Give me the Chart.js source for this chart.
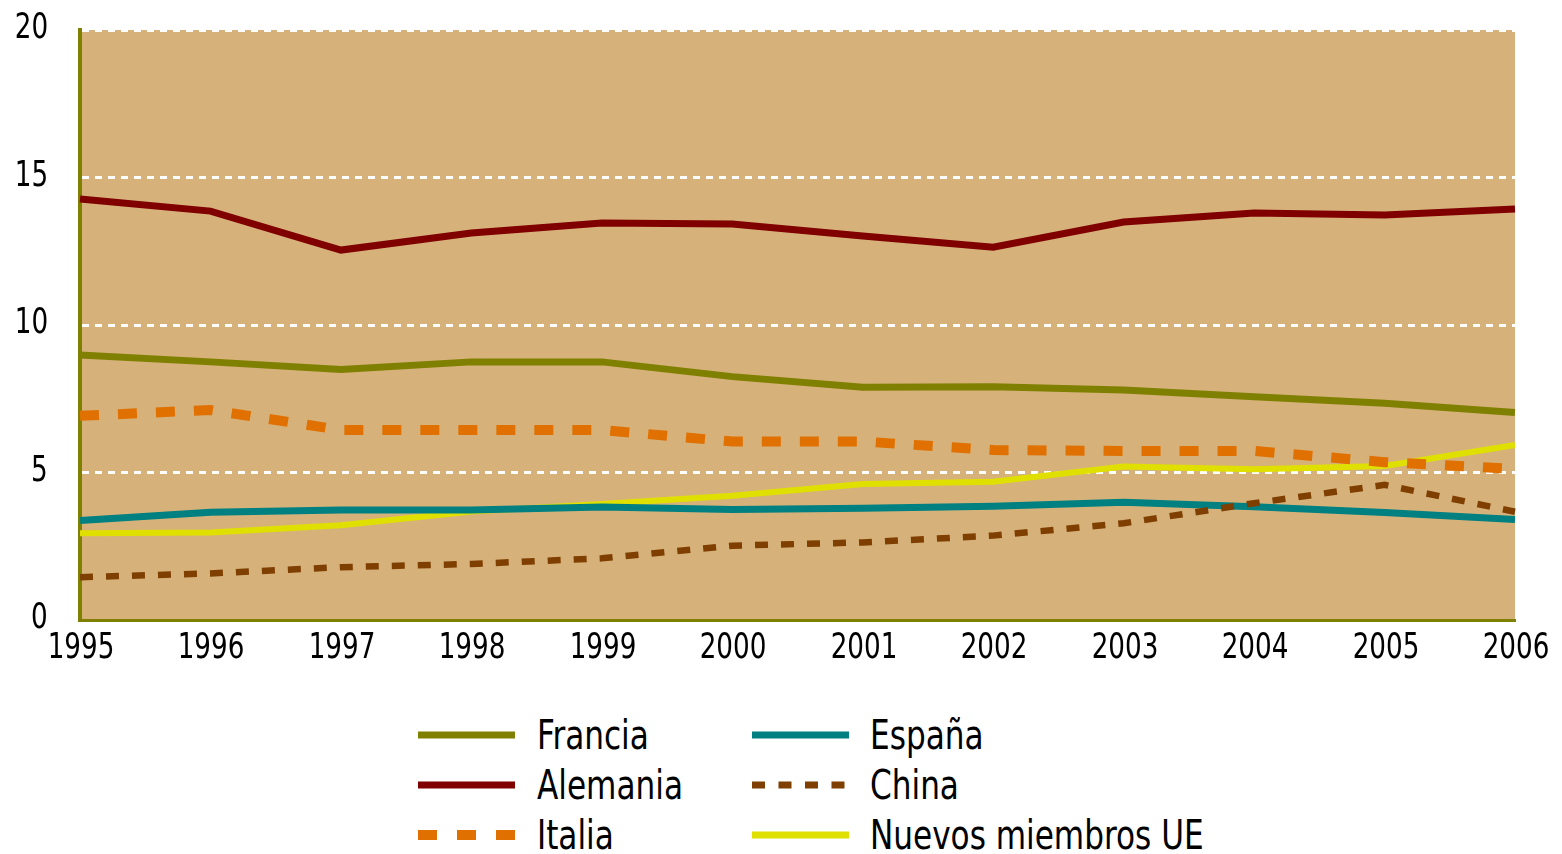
<!DOCTYPE html>
<html>
<head>
<meta charset="utf-8">
<script src="https://cdn.jsdelivr.net/npm/chart.js@4/dist/chart.umd.min.js"></script>
<style>
  html, body { margin: 0; padding: 0; background: #fff; }
  body { width: 1562px; height: 854px; position: relative; overflow: hidden;
         font-family: "Liberation Sans Narrow", "Arial Narrow", "DejaVu Sans Condensed", sans-serif; }
  #wrap { position: absolute; left: 0; top: 0; width: 1562px; height: 700px; }
  .leg { position: absolute; height: 44px; }
  .leg svg { display: block; }
  .leg span { position: absolute; font-size: 40px; color: #000; white-space: nowrap; line-height: 44px;
              transform-origin: left center; transform: scaleX(0.865); }
  .tx { position: absolute; font-size: 36px; line-height: 36px; color: #000; white-space: nowrap;
        transform: translateX(-50%) scaleX(0.81); }
  .ty { position: absolute; font-size: 36px; line-height: 36px; color: #000; white-space: nowrap;
        transform-origin: right center; transform: scaleX(0.81); }
</style>
</head>
<body>
<div id="wrap"><canvas id="c" width="1562" height="700"></canvas></div>
<div id="ticks"></div>
<div id="legend"></div>
<script>
const years = ['1995','1996','1997','1998','1999','2000','2001','2002','2003','2004','2005','2006'];
const yTicks = [0, 5, 10, 15, 20];

const francia  = [8.98, 8.75, 8.49, 8.75, 8.75, 8.25, 7.89, 7.91, 7.80, 7.57, 7.35, 7.03];
const alemania = [14.27, 13.86, 12.54, 13.12, 13.46, 13.42, 13.02, 12.64, 13.49, 13.80, 13.73, 13.93];
const italia   = [6.92, 7.12, 6.44, 6.44, 6.44, 6.05, 6.05, 5.76, 5.73, 5.73, 5.35, 5.12];
const espana   = [3.37, 3.65, 3.73, 3.73, 3.83, 3.75, 3.79, 3.86, 3.99, 3.84, 3.64, 3.41];
const china    = [1.45, 1.58, 1.79, 1.90, 2.09, 2.52, 2.63, 2.86, 3.28, 3.96, 4.58, 3.67];
const nuevos   = [2.94, 2.97, 3.21, 3.68, 3.93, 4.21, 4.61, 4.69, 5.20, 5.11, 5.22, 5.93];

const seriesNames = ['Francia', 'Alemania', 'Italia', 'España', 'China', 'Nuevos miembros UE'];

const styles = [
  { color: '#808000', width: 7, dash: [] },
  { color: '#800000', width: 7, dash: [] },
  { color: '#E07000', width: 10, dash: [19, 19] },
  { color: '#008080', width: 7, dash: [] },
  { color: '#7F3F00', width: 6.5, dash: [13, 13] },
  { color: '#E0E000', width: 6, dash: [] }
];
const dataArr = [francia, alemania, italia, espana, china, nuevos];
const drawOrder = [1, 1, 2, 3, 2, 4];

const bgPlugin = {
  id: 'plotBg',
  beforeDraw(chart) {
    const { ctx, chartArea: a } = chart;
    ctx.save();
    ctx.fillStyle = 'rgb(214,178,122)';
    ctx.fillRect(a.left, a.top, a.right - a.left, a.bottom - a.top);
    ctx.restore();
  }
};

const chart = new Chart(document.getElementById('c'), {
  type: 'line',
  data: {
    labels: years,
    datasets: seriesNames.map((n, i) => ({
      label: n,
      data: dataArr[i],
      borderColor: styles[i].color,
      backgroundColor: styles[i].color,
      borderWidth: styles[i].width,
      borderDash: styles[i].dash,
      borderCapStyle: 'butt',
      borderJoinStyle: 'miter',
      pointRadius: 0,
      tension: 0,
      fill: false,
      order: drawOrder[i]
    }))
  },
  options: {
    responsive: false,
    animation: false,
    events: [],
    layout: { padding: { top: 30, right: 47, left: 0, bottom: 0 } },
    plugins: { legend: { display: false }, tooltip: { enabled: false } },
    scales: {
      x: {
        type: 'category',
        offset: false,
        grid: { display: false },
        border: { display: true, color: '#808000', width: 3 },
        ticks: { display: false, autoSkip: false },
        afterFit(s) { s.height = 80; }
      },
      y: {
        min: 0, max: 20,
        afterBuildTicks(s) { s.ticks = yTicks.map(v => ({ value: v })); },
        grid: { color: '#ffffff', lineWidth: 3, drawTicks: false },
        border: { display: true, color: '#808000', width: 4, dash: [7, 6] },
        ticks: { display: false },
        afterFit(s) { s.width = 80; }
      }
    }
  },
  plugins: [bgPlugin]
});

// Tick labels as HTML text, positioned with the chart's own scales
const tickBox = document.getElementById('ticks');
const xs = chart.scales.x, ys = chart.scales.y;
years.forEach((y, i) => {
  const s = document.createElement('span');
  s.className = 'tx';
  s.textContent = y;
  s.style.left = (xs.getPixelForValue(i) + 1) + 'px';
  s.style.top = (xs.top + 8) + 'px';
  tickBox.appendChild(s);
});
yTicks.forEach(v => {
  const s = document.createElement('span');
  s.className = 'ty';
  s.textContent = String(v);
  s.style.right = (1562 - 48) + 'px';
  s.style.top = (ys.getPixelForValue(v) - 22) + 'px';
  tickBox.appendChild(s);
});

// Legend (column-major: 3 rows x 2 columns)
const legend = document.getElementById('legend');
const cols = [418, 752];
const rowsY = [735, 785, 835];
seriesNames.forEach((n, i) => {
  const col = Math.floor(i / 3), row = i % 3;
  const st = styles[i];
  const d = document.createElement('div');
  d.className = 'leg';
  d.style.left = cols[col] + 'px';
  d.style.top = (rowsY[row] - 22) + 'px';
  const w = 97;
  const dash = st.dash.length ? (i === 2 ? '19 20' : '13 13.5') : 'none';
  d.innerHTML = '<svg width="' + w + '" height="44"><line x1="0" y1="22" x2="' + w + '" y2="22" stroke="' + st.color +
    '" stroke-width="' + (i === 2 ? 10 : 7) + '" stroke-dasharray="' + dash + '"/></svg>' +
    '<span style="left:' + (col === 0 ? 119 : 118) + 'px;top:0">' + n + '</span>';
  legend.appendChild(d);
});
</script>
</body>
</html>
